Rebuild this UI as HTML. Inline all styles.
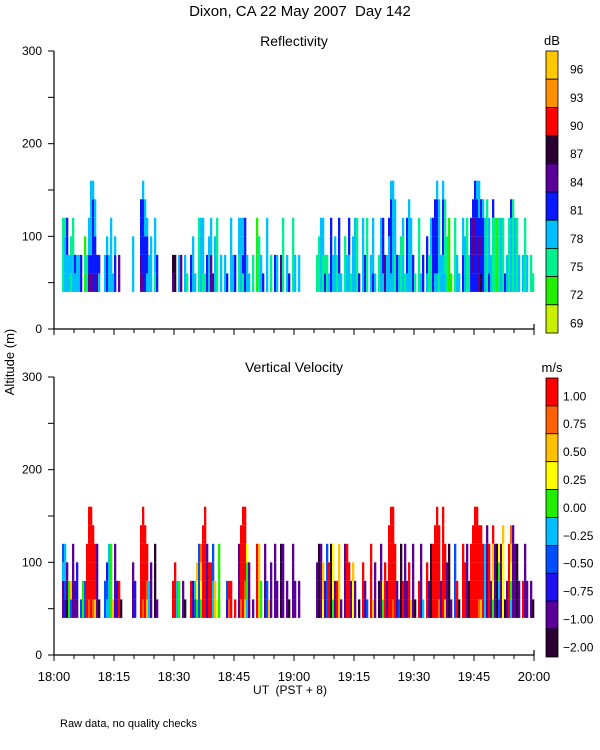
<!DOCTYPE html>
<html><head><meta charset="utf-8"><style>
body{margin:0;background:#fff}
svg{display:block;font-family:"Liberation Sans",sans-serif}
</style></head><body>
<svg id="c" width="600" height="750" viewBox="0 0 600 750" xmlns="http://www.w3.org/2000/svg">
<text x="300" y="16" font-size="15" text-anchor="middle" style="white-space:pre">Dixon, CA 22 May 2007  Day 142</text>
<text x="294" y="46" font-size="14" text-anchor="middle">Reflectivity</text>
<text x="294" y="372" font-size="14" text-anchor="middle">Vertical Velocity</text>
<text transform="translate(14,362) rotate(-90)" font-size="13" text-anchor="middle">Altitude (m)</text>
<text x="290" y="694" font-size="12" text-anchor="middle" style="white-space:pre">UT  (PST + 8)</text>
<text x="60" y="727" font-size="11">Raw data, no quality checks</text>
<g id="g"></g>
</svg>
<script>
const refColors=["#c8f000","#22ee00","#00f090","#00bfff","#0818ff","#5a0098","#2a0030","#ff0000","#ff9000","#ffc800"];
const refLabels=["69","72","75","78","81","84","87","90","93","96"];
const velColors=["#2a0030","#5a0098","#2010f0","#0050ff","#00bfff","#22ee00","#ffff00","#ffc000","#ff6000","#ff0000"];
const velLabels=["\u22122.00","\u22121.00","\u22120.75","\u22120.50","\u22120.25","0.00","0.25","0.50","0.75","1.00"];
const xTickLabels=["18:00","18:15","18:30","18:45","19:00","19:15","19:30","19:45","20:00"];
const yTicks=[0,100,200,300];
// columns: [start minute after 18:00, end minute, color index per 20 m bin from 40 m]
const refCols=[[2,2.5,"2222"],[2.5,3,"3332"],[3,3.5,"3344"],[3.5,4,"33"],[4,4.5,"232"],[4.5,5,"3322"],[5,5.5,"34"],[5.5,6.5,"33"],[6.5,7,"44"],[7.5,8,"121"],[8,8.5,"22"],[8.5,9,"5433"],[9,9.5,"543333"],[9.5,10,"544443"],[10,10.5,"44433"],[10.5,11,"54"],[11,11.5,"34"],
[12.5,13,"33"],[13,13.5,"443"],[13.5,14,"33"],[14,14.5,"3333"],[14.5,15,"3"],[15,15.5,"443"],[16,16.5,"55"],
[19.5,20,"333"],[21.5,22,"55444"],[22,22.5,"544443"],[22.5,23,"44433"],[23,23.5,"3443"],[23.5,24,"33"],[24,24.5,"333"],[25,25.5,"2333"],[25.5,26,"44"],
[29.5,30,"56"],[30,30.5,"66"],[31,31.5,"33"],[31.5,32,"55"],[32.5,33,"33"],[33,33.5,"2"],[34,34.5,"44"],[34.5,35,"333"],[35,35.5,"3"],[36,36.5,"2222"],[36.5,37,"3333"],[37,37.5,"2333"],[37.5,38,"2"],[38,38.5,"44"],[38.5,39,"333"],[39,39.5,"5533"],[39.5,40,"5"],[40,40.5,"333"],[40.5,41,"2222"],[41.5,42,"33"],[42.5,43,"33"],[43,43.5,"4"],[44,44.5,"3333"],[44.5,45,"33"],[45,45.5,"44"],[46,46.5,"2233"],[46.5,47,"3333"],[47,47.5,"2433"],[47.5,48,"4444"],[48,48.5,"33"],[48.5,49,"3"],[49.5,50,"22"],
[50.5,51,"1111"],[51,51.5,"222"],[51.5,52,"33"],[52,52.5,"4"],[53,53.5,"3333"],[54,54.5,"22"],[55,55.5,"44"],[55.5,56,"33"],[56.5,57,"55"],[57,57.5,"2222"],[58,58.5,"33"],[58.5,59,"4"],[59.5,60,"2222"],[60,60.5,"33"],[61,61.5,"33"],
[65.5,66,"22"],[66,66.5,"222"],[66.5,67,"3333"],[67,67.5,"2233"],[67.5,68,"42"],[68,68.5,"22"],[68.5,69,"3"],[69,69.5,"4444"],[69.5,70,"33"],[70,70.5,"333"],[70.5,71,"22"],[71,71.5,"3444"],[71.5,72,"3"],[72.5,73,"222"],[73,73.5,"33"],[73.5,74,"3344"],[74,74.5,"2"],[74.5,75,"333"],[75,75.5,"3333"],[75.5,76,"2222"],
[76,76.5,"4"],[77,77.5,"3333"],[77.5,78,"44"],[78,78.5,"2222"],[79,79.5,"33"],[79.5,80,"4333"],[80,80.5,"3"],[81,81.5,"22"],[81.5,82,"3333"],[82,82.5,"3444"],[82.5,83,"55"],[83,83.5,"33"],[83.5,84,"3334"],[84,84.5,"344443"],[84.5,85,"333333"],[85,85.5,"22333"],[85.5,86,"44"],[86,86.5,"33"],[86.5,87,"222"],[87,87.5,"3323"],[87.5,88,"2"],[88,88.5,"3444"],[88.5,89,"33333"],[89,89.5,"3333"],[89.5,90,"44"],[90,90.5,"2"],[91,91.5,"2222"],[91.5,92,"3"],[92,92.5,"44"],[93,93.5,"344"],[93.5,94,"22"],[94,94.5,"2233"],[94.5,95,"4444"],[95,95.5,"34444"],[95.5,96,"344443"],[96,96.5,"23333"],[96.5,97,"33"],[97,97.5,"334443"],[97.5,98,"32222"],[98,98.5,"222"],[98.5,99,"1111"],[99,99.5,"1"],[100,100.5,"2222"],[100.5,101,"33"],[101,101.5,"3"],[102,102.5,"4433"],[102.5,103,"333"],[103,103.5,"2222"],[103.5,104,"22"],[104,104.5,"4444"],[104.5,105,"45554"],[105,105.5,"445544"],[105.5,106,"444443"],[106,106.5,"555433"],[106.5,107,"64544"],[107,107.5,"44443"],[107.5,108,"3333"],[108,108.5,"22222"],[108.5,109,"4333"],[109,109.5,"33"],[109.5,110,"22224"],[110,110.5,"2222"],[110.5,111,"1111"],[111,111.5,"2222"],[111.5,112,"3333"],[112,112.5,"2222"],[112.5,113,"4"],[113,113.5,"33"],[113.5,114,"2222"],[114,114.5,"33334"],[114.5,115,"22222"],[115,115.5,"3333"],[115.5,116,"2222"],[116,116.5,"33"],[117,117.5,"33"],[117.5,118,"2222"],[118,118.5,"33"],[119,119.5,"22"],[119.5,120,"2"]];
const velCols=[[2,2.5,"1143"],[2.5,3,"2344"],[3,3.5,"011"],[3.5,4,"55"],[4,4.5,"37"],[4.5,5,"1111"],[5,5.5,"11"],[5.5,6,"122"],[6.5,7,"3"],[7,7.5,"55"],[7.5,8,"33"],[8,8.5,"9999"],[8.5,9,"899999"],[9,9.5,"999999"],[9.5,10,"89999"],[10,10.5,"7999"],[10.5,11,"1111"],[11,11.5,"0"],[12.5,13,"33"],[13,13.5,"432"],[13.5,14,"4444"],[14,14.5,"5555"],[14.5,15,"7"],[15,15.5,"1111"],[15.5,16,"22"],[16,16.5,"99"],[16.5,17,"0"],[19.5,20,"111"],[20,20.5,"22"],
[21.5,22,"99999"],[22,22.5,"899999"],[22.5,23,"99999"],[23,23.5,"7899"],[23.5,24,"44"],[24,24.5,"111"],[25,25.5,"0000"],[25.5,26,"1"],[29.5,30,"99"],[30,30.5,"999"],[30.5,31,"44"],[31,31.5,"55"],[32,32.5,"11"],[32.5,33,"0"],[34,34.5,"99"],[34.5,35,"11"],[35,35.5,"34"],[35.5,36,"567"],[36,36.5,"3333"],[36.5,37,"5678"],[37,37.5,"99999"],[37.5,38,"999999"],[38,38.5,"1111"],[38.5,39,"999"],[39,39.5,"999"],[39.5,40,"4433"],[40,40.5,"77"],[40.5,41,"6"],[41,41.5,"5555"],[43,43.5,"23"],[43.5,44,"89"],[44,44.5,"99"],[45,45.5,"9"],[46,46.5,"1111"],[46.5,47,"89999"],[47,47.5,"999999"],[47.5,48,"789999"],[48,48.5,"4556"],[48.5,49,"111"],[49.5,50,"1"],[50.5,51,"9999"],[51,51.5,"7777"],[51.5,52,"55"],[52.5,53,"1111"],[53,53.5,"33"],[53.5,54,"7"],[54,54.5,"111"],[55,55.5,"1111"],[55.5,56,"11"],
[56.5,57,"0000"],[57,57.5,"1111"],[58,58.5,"11"],[58.5,59,"0"],[59.5,60,"1111"],[60,60.5,"11"],[61,61.5,"11"],
[65.5,66,"111"],[66,66.5,"0000"],[66.5,67,"1111"],[67,67.5,"677"],[67.5,68,"11"],[68,68.5,"3333"],[68.5,69,"999"],[69,69.5,"0000"],[69.5,70,"5666"],[70,70.5,"11"],[70.5,71,"99"],[71,71.5,"7777"],[71.5,72,"1"],[72.5,73,"1111"],[73,73.5,"9999"],[73.5,74,"999"],[74,74.5,"11"],[74.5,75,"667"],[75,75.5,"11"],[76,76.5,"0"],[77,77.5,"999"],[77.5,78,"11"],[78,78.5,"3"],[79,79.5,"9999"],[79.5,80,"7"],[80,80.5,"111"],[81,81.5,"00"],[81.5,82,"1111"],[82,82.5,"56"],[82.5,83,"999"],[83,83.5,"11"],[83.5,84,"99999"],[84,84.5,"999999"],[84.5,85,"899999"],[85,85.5,"9999"],[85.5,86,"11"],[86,86.5,"3"],[86.5,87,"0000"],[87,87.5,"99"],[87.5,88,"1111"],[88,88.5,"11"],[88.5,89,"999"],[89,89.5,"7"],[89.5,90,"1111"],[90,90.5,"0"],[91,91.5,"99"],[91.5,92,"1111"],[92,92.5,"4"],[93,93.5,"999"],[93.5,94,"11"],[94,94.5,"0000"],[94.5,95,"9999"],[95,95.5,"99999"],[95.5,96,"999999"],[96,96.5,"89999"],[96.5,97,"11"],[97,97.5,"999999"],[97.5,98,"7999"],[98,98.5,"111"],[98.5,99,"0000"],[99,99.5,"1"],[100,100.5,"3333"],[100.5,101,"99"],[101,101.5,"0"],[102,102.5,"9999"],[102.5,103,"999"],[103,103.5,"1111"],[103.5,104,"00"],[104,104.5,"9999"],[104.5,105,"99999"],[105,105.5,"999999"],[105.5,106,"999999"],[106,106.5,"89999"],[106.5,107,"79999"],[107,107.5,"9999"],[107.5,108,"4444"],[108,108.5,"11111"],[108.5,109,"9999"],[109,109.5,"11"],[109.5,110,"56779"],[110,110.5,"1111"],[110.5,111,"0000"],[111,111.5,"3456"],[111.5,112,"1111"],[112,112.5,"66667"],[112.5,113,"0"],[113,113.5,"11"],[113.5,114,"9999"],[114,114.5,"45678"],[114.5,115,"11111"],[115,115.5,"1111"],[115.5,116,"0000"],[116,116.5,"11"],[117,117.5,"99"],[117.5,118,"1111"],[118,118.5,"11"],[119,119.5,"11"],[119.5,120,"0"]];

const NS="http://www.w3.org/2000/svg";
const G=document.getElementById('g');
const X0=54,X1=534;
const xs=m=>X0+(X1-X0)*m/120;
function mk(tag,attrs,parent){const e=document.createElementNS(NS,tag);for(const k in attrs)e.setAttribute(k,attrs[k]);(parent||G).appendChild(e);return e;}

function panel(name,yBottom,yTop,cols,colors,labels,unit,barTop,barBottom,showX){
  const ys=a=>yBottom-(yBottom-yTop)*a/300;
  const g=mk('g',{});
  
  
  const marks=mk('g',{},g);
  
  
  cols.forEach(c=>{
    const x=xs(c[0]),w=xs(c[1])-xs(c[0]);
    for(let i=0;i<c[2].length;i++){
      const r=mk('rect',{x:x,y:ys(40+20*(i+1)),width:w+0.3,height:ys(40+20*i)-ys(40+20*(i+1)),fill:colors[+c[2][i]]},marks);
      
      
    }
  });
  const ax=mk('path',{d:`M${X0} ${yTop}V${yBottom}H${X1}V${yBottom-5}`,stroke:'#000',fill:'none','stroke-width':1.2},g);
  
  
  for(let a=0;a<=300;a+=50){
    mk('line',{x1:X0-6,x2:X0,y1:ys(a),y2:ys(a),stroke:'#000'},g);
  }
  yTicks.forEach(a=>{
    const t=mk('text',{x:X0-12,y:ys(a)+4,'font-size':12,'text-anchor':'end'},g);
    t.textContent=a;
    
    
  });
  for(let m=0;m<=120;m+=5){
    mk('line',{x1:xs(m),x2:xs(m),y1:yBottom,y2:yBottom+(m%15==0?6:4),stroke:'#000'},g);
  }
  if(showX){
    xTickLabels.forEach((l,i)=>{
      const t=mk('text',{x:xs(i*15),y:yBottom+26,'font-size':13,'text-anchor':'middle'},g);
      t.textContent=l;
      
      
    });
  }
  const cb=mk('g',{},g);
  
  
  const h=(barBottom-barTop)/colors.length;
  for(let i=0;i<colors.length;i++){
    const k=colors.length-1-i;
    mk('rect',{x:546,y:barTop+h*i,width:12,height:h,fill:colors[k],stroke:'#000','stroke-width':0.8},cb);
    const t=mk('text',{x:unit=='dB'?570:563,y:barTop+h*i+h*0.8,'font-size':12},cb);
    t.textContent=labels[k];
    
    
  }
  const u=mk('text',{x:552,y:barTop-6,'font-size':13,'text-anchor':'middle'},cb);
  u.textContent=unit;
  
  
}
panel('reflectivity',329,51,refCols,refColors,refLabels,'dB',51,333,false);
panel('velocity',655,377,velCols,velColors,velLabels,'m/s',378,657,true);
</script>
</body></html>
